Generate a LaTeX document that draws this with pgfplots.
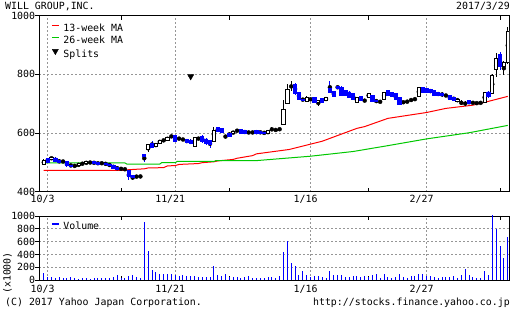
\documentclass[border=0pt]{standalone}
\usepackage{pgfplots}
\pgfplotsset{compat=1.18}
\usepackage{pgfplotstable}
\usepackage{fontspec}
\setmainfont{DejaVu Sans Mono}
\newcommand\f{\fontsize{9.9bp}{11bp}\selectfont}
\definecolor{ybl}{RGB}{0,0,255}
\definecolor{mared}{RGB}{255,0,0}
\definecolor{magrn}{RGB}{0,200,0}
\definecolor{grd}{RGB}{150,150,150}

% white (up) candles and crosses
\pgfplotstableread{
i o h l c
0 492 510 490 507
2 510 520 508 518
5 503 506 500 503
8 486 492 484 490
9 488 497 486 495
10 495 498 493 495
11 495 503 494 502
12 500 502 497 500
15 497 499 495 497
20 478 480 476 478
21 477 479 474 477
24 452 454 449 452
25 452 454 450 452
27 545 562 534 560
29 556 566 552 563
30 565 577 563 575
31 575 578 572 575
32 575 588 573 585
33 588 595 582 588
35 581 584 578 581
36 578 581 575 578
39 554 588 552 585
40 581 585 577 581
44 571 622 568 609
47 588 592 584 588
49 598 607 596 605
50 608 611 605 608
53 602 604 600 602
54 602 605 599 602
58 598 609 597 608
59 608 619 606 608
60 610 614 607 612
61 613 616 610 613
62 630 712 628 680
63 701 766 698 749
64 752 776 742 752
68 708 726 706 722
69 715 718 712 715
71 705 714 691 712
73 711 723 709 721
81 704 723 702 721
83 711 713 708 711
84 721 737 719 735
87 708 711 702 708
88 715 741 713 739
93 704 710 700 704
94 704 712 702 709
95 711 716 709 711
96 714 720 711 714
97 725 758 723 756
104 728 731 725 728
107 708 718 706 716
108 708 712 694 708
109 706 709 692 706
111 703 706 700 703
112 702 705 699 702
113 703 706 700 703
114 705 741 702 738
116 735 800 733 797
117 818 872 790 855
119 828 845 797 840
120 840 961 836 948
}\upT

% blue (down) candles
\pgfplotstableread{
i o h l c
1 513 516 498 500
3 515 517 500 502
4 508 510 497 500
6 502 504 485 490
7 490 495 484 486
13 502 503 494 495
14 500 501 493 494
16 498 500 490 492
17 494 496 486 488
18 490 492 478 480
19 484 486 474 476
22 472 474 440 451
23 455 456 440 450
26 526 528 500 521
28 564 574 548 550
34 591 593 568 571
37 578 580 565 568
38 575 578 562 564
41 588 592 566 570
42 580 582 560 565
43 575 577 550 561
45 619 621 603 605
46 615 617 599 601
48 600 603 588 590
51 612 614 598 600
52 608 610 597 599
55 608 610 596 598
56 606 608 597 599
57 603 605 596 598
65 766 770 730 735
66 738 740 713 716
67 716 720 708 712
70 721 723 702 704
72 718 720 702 704
74 752 776 736 738
75 742 745 722 725
76 759 762 750 752
77 756 760 726 728
78 745 747 726 728
79 740 742 720 722
80 735 737 713 715
82 725 727 709 711
85 728 730 706 708
86 712 714 704 708
89 745 748 726 728
90 738 740 724 726
91 735 737 713 715
92 721 723 696 698
98 756 758 736 738
99 752 754 738 740
100 748 750 736 738
101 745 747 728 730
102 739 741 725 727
103 735 740 723 727
105 728 731 711 714
106 722 724 710 712
110 710 712 698 700
115 740 745 720 726
118 868 875 814 828
}\dnT

\pgfplotstableread{
i v
0 105
1 53
2 42
3 37
4 47
5 32
6 26
7 47
8 37
9 21
10 26
11 32
12 21
13 26
14 32
15 26
16 32
17 32
18 47
19 79
20 37
21 26
22 68
23 79
24 42
25 37
26 910
27 458
28 158
29 126
30 95
31 95
32 95
33 95
34 79
35 68
36 79
37 68
38 68
39 68
40 53
41 53
42 53
43 53
44 226
45 79
46 68
47 95
48 53
49 47
50 42
51 37
52 47
53 63
54 32
55 32
56 32
57 32
58 47
59 53
60 26
61 58
62 437
63 605
64 263
65 226
66 84
67 142
68 79
69 53
70 68
71 68
72 53
73 26
74 142
75 79
76 79
77 79
78 47
79 42
80 63
81 63
82 47
83 63
84 47
85 74
86 89
87 37
88 89
89 47
90 37
91 47
92 89
93 47
94 32
95 58
96 58
97 89
98 89
99 63
100 63
101 42
102 37
103 42
104 42
105 53
106 63
107 26
108 79
109 174
110 79
111 47
112 37
113 32
114 142
115 79
116 1050
117 795
118 526
119 342
120 668
}\volT

\pgfplotsset{
  chartbase/.style={
    scale only axis, width=470bp, xmin=-1.15, xmax=120.4, enlargelimits=false,
  },
  framed/.style={
    axis line style={line width=0.8bp},
    xtick={1,34,69,99}, xticklabels={10/3,11/21,1/16,2/27},
    minor xtick={20,48,84,118},
    xmajorgrids, ymajorgrids,
    major grid style={grd, dash pattern=on 2bp off 2bp, line width=0.8bp},
    tick align=inside, major tick length=4bp, minor tick length=4bp,
    every major x tick/.append style={draw opacity=0},
    every tick/.append style={black, line width=0.8bp},
    ytick style={xshift=-4bp},
    ytick pos=left,
    xticklabel pos=lower,
    tick label style={font=\f, inner sep=0pt},
    xticklabel style={anchor=north, xshift=-5bp},
    yticklabel style={anchor=east, xshift=-4bp},
    legend style={draw=none, fill=none, font=\f, inner sep=0pt,
      nodes={inner sep=0pt, text height=7bp, text depth=2bp},
      row sep=3.6bp, column sep=4bp},
    legend cell align=left,
  },
}

\begin{document}
\begin{tikzpicture}[font=\f]
\useasboundingbox (0,0) rectangle (512bp,310bp);
\fill[white] (0,0) rectangle (512bp,310bp);

% ---------- price panel: grid, MAs, splits, wicks ----------
\begin{axis}[chartbase, framed, at={(39.3bp,118.3bp)}, anchor=south west,
  height=176bp, ymin=400, ymax=1000,
  ytick={400,600,800,1000}, yticklabels={400,600,800,1000},
  xticklabel style={yshift=-3bp},
  legend style={at={(0.025,0.953)}, anchor=north west}]
\addplot[mared, line width=1bp,
  legend image code/.code={\draw[mared, line width=1.2bp] (0bp,3.5bp) -- (7bp,3.5bp);}]
  coordinates {(0,473)(21,473)(22,475)(26,478)(27,481)(31,482)(32,488)(34,489)(35,493)(40,496)(41,499)(44,502)(45,505)(49,510)(50,514)(54,523)(55,529)(63.5,544)(72,572)(81,616)(83,622)(89,650)(99,670)(104,684)(111,695)(115,708)(120,725)};
\addlegendentry{13-week MA}
\addplot[magrn, line width=1bp,
  legend image code/.code={\draw[magrn, line width=1.2bp] (0bp,3.5bp) -- (7bp,3.5bp);}]
  coordinates {(0,498)(21,498)(21.5,494)(30,494)(30.5,499)(34,499)(34.5,503)(44,503)(44.5,506)(55,506)(69,521)(80,537)(89,557)(99,580)(110,601)(120,626)};
\addlegendentry{26-week MA}
\addplot[only marks, mark=triangle*, mark size=3.5bp, mark options={rotate=180, fill=black, draw=black},
  legend image code/.code={\draw plot[mark=triangle*, mark size=3.5bp, mark options={rotate=180, fill=black, draw=black}] coordinates {(3.5bp,3.5bp)};}]
  coordinates {(38,793)};
\addlegendentry{Splits}
\addplot[forget plot, only marks, mark=none,
  error bars/.cd, y dir=both, y explicit, error mark=none,
  error bar style={black, line width=0.9bp}]
  table[x=i, y expr={(\thisrow{h}+\thisrow{l})/2}, y error expr={(\thisrow{h}-\thisrow{l})/2}] \upT;
\addplot[forget plot, only marks, mark=none,
  error bars/.cd, y dir=both, y explicit, error mark=none,
  error bar style={ybl, line width=0.9bp}]
  table[x=i, y expr={(\thisrow{h}+\thisrow{l})/2}, y error expr={(\thisrow{h}-\thisrow{l})/2}] \dnT;
\end{axis}

% ---------- price panel: white bodies ----------
\begin{axis}[chartbase, at={(39.3bp,118.3bp)}, anchor=south west,
  height=176bp, ymin=400, ymax=1000, hide axis, ybar stacked, bar width=3.2bp]
\addplot[draw=none, fill=none] table[x=i, y=o] \upT;
\addplot[draw=black, fill=white, line width=0.8bp] table[x=i, y expr={\thisrow{c}-\thisrow{o}}] \upT;
\end{axis}

% ---------- price panel: blue bodies ----------
\begin{axis}[chartbase, at={(39.3bp,118.3bp)}, anchor=south west,
  height=176bp, ymin=400, ymax=1000, hide axis, ybar stacked, bar width=3.2bp]
\addplot[draw=none, fill=none] table[x=i, y=c] \dnT;
\addplot[draw=ybl, fill=ybl, line width=0.8bp] table[x=i, y expr={\thisrow{o}-\thisrow{c}}] \dnT;
\end{axis}

% ---------- volume panel ----------
\begin{axis}[chartbase, framed, at={(39.3bp,30bp)}, anchor=south west,
  height=64bp, ymin=0, ymax=1000,
  ytick={0,200,400,600,800,1000}, yticklabels={0,200,400,600,800,1000},
  xticklabel style={yshift=-5bp},
  legend style={at={(0.025,0.894)}, anchor=north west}]
\addplot[ybl, ycomb, line width=1bp,
  legend image code/.code={\draw[ybl, line width=1.2bp] (0bp,3.5bp) -- (7bp,3.5bp);}]
  table[x=i, y=v] \volT;
\addlegendentry{Volume}
\end{axis}

% ---------- texts ----------
\node[anchor=base west, inner sep=0pt] at (5bp,300bp) {WILL GROUP,INC.};
\node[anchor=base east, inner sep=0pt] at (510bp,300bp) {2017/3/29};
\node[anchor=base west, inner sep=0pt] at (5bp,4.5bp) {(C) 2017 Yahoo Japan Corporation.};
\node[anchor=base east, inner sep=0pt] at (510bp,4.5bp) {http://stocks.finance.yahoo.co.jp};
\node[rotate=90, inner sep=0pt] at (7.5bp,37bp) {(x1000)};
\end{tikzpicture}
\end{document}
